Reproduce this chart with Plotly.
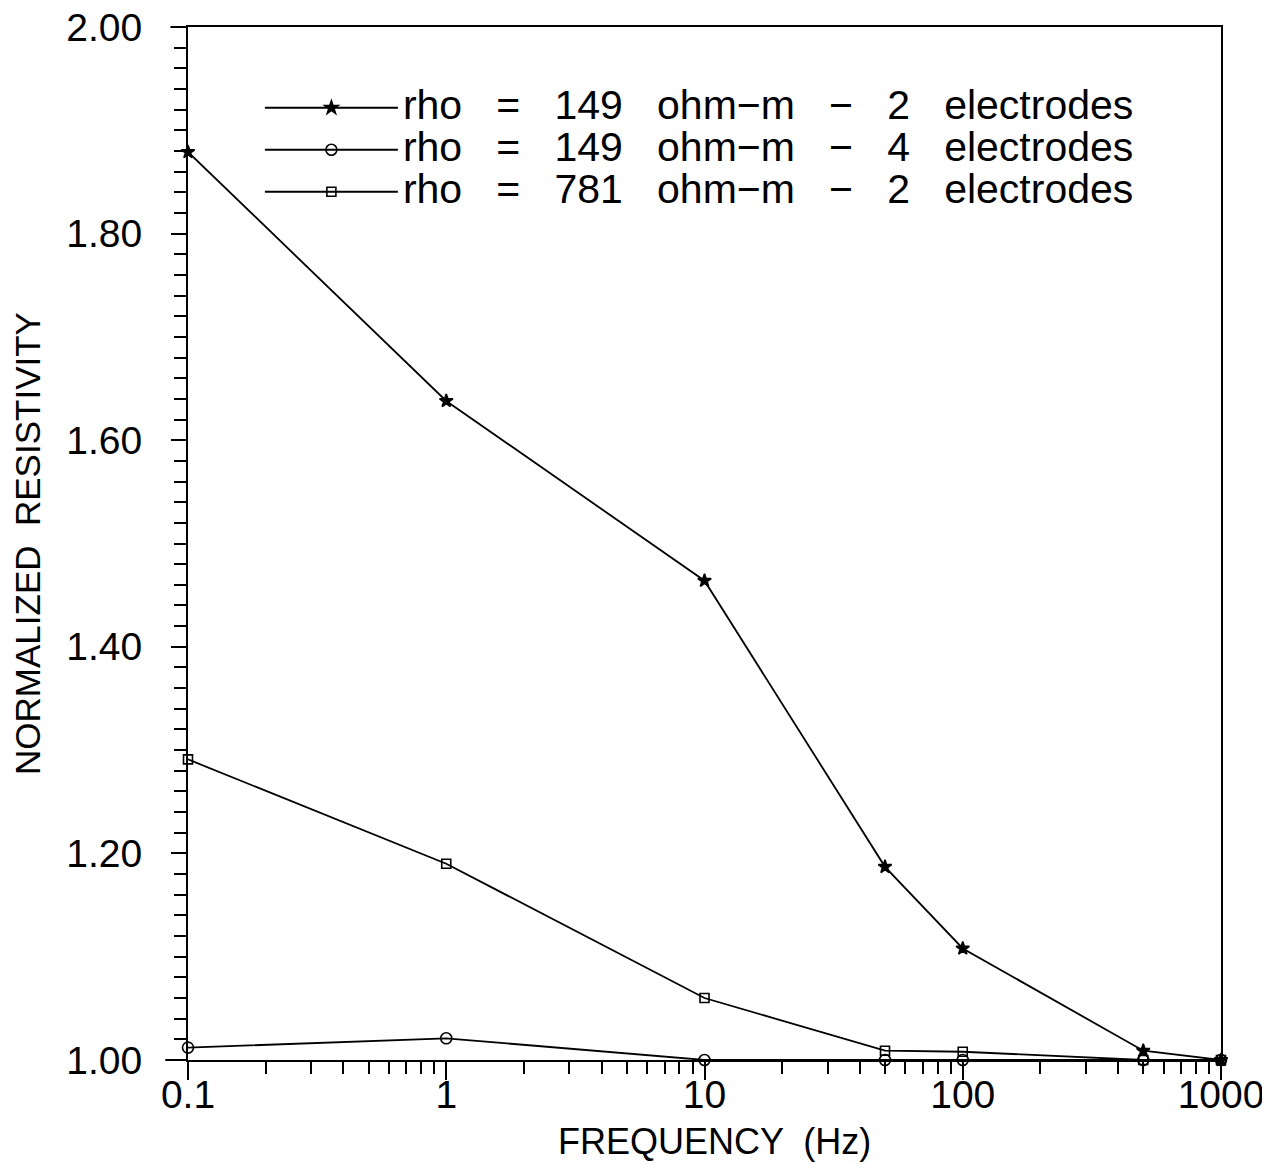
import plotly.graph_objects as go

freq = [0.1, 1, 10, 50, 100, 500, 1000]
rho149_2e = [1.879, 1.638, 1.464, 1.187, 1.108, 1.009, 1.000]
rho149_4e = [1.012, 1.021, 1.000, 1.000, 1.000, 1.000, 1.000]
rho781_2e = [1.291, 1.190, 1.060, 1.009, 1.008, 1.000, 1.000]

x_title = "FREQUENCY  (Hz)"
y_title = "NORMALIZED  RESISTIVITY"

NB = "\u00a0" * 3
names = [
    f"rho{NB}={NB}149{NB}ohm\u2212m{NB}\u2212{NB}2{NB}electrodes",
    f"rho{NB}={NB}149{NB}ohm\u2212m{NB}\u2212{NB}4{NB}electrodes",
    f"rho{NB}={NB}781{NB}ohm\u2212m{NB}\u2212{NB}2{NB}electrodes",
]
series = [rho149_2e, rho149_4e, rho781_2e]
symbols = ["star", "circle-open", "square-open"]
sizes = [10, 11, 9]

fig = go.Figure()
for name, ys, sym, sz in zip(names, series, symbols, sizes):
    fig.add_trace(go.Scatter(
        x=freq, y=ys, name=f'<span style="font-size:41px">{name}</span>',
        mode="lines+markers",
        line=dict(color="black", width=1.8),
        marker=dict(symbol=sym, size=sz, color="black", line=dict(color="black", width=1.6)),
        cliponaxis=False,
    ))

font = "Liberation Sans, Arial, sans-serif"
fig.update_layout(
    width=1270, height=1165,
    margin=dict(l=180, r=57, t=19, b=113),
    paper_bgcolor="white", plot_bgcolor="white",
    font=dict(family=font, color="black", size=36),
    showlegend=True,
    legend=dict(x=0.0696, y=0.947, xanchor="left", yanchor="top",
                bgcolor="rgba(0,0,0,0)", font=dict(size=30),
                tracegroupgap=0, itemwidth=133),
    shapes=[
        dict(type="line", xref="paper", yref="paper", x0=-0.022, x1=0, y0=0, y1=0,
             line=dict(color="black", width=2)),
        dict(type="line", xref="paper", yref="paper", x0=-0.017, x1=0, y0=1, y1=1,
             line=dict(color="black", width=2)),
    ],
    annotations=[
        dict(text=x_title, xref="paper", yref="paper", x=0.51, y=-0.079,
             xanchor="center", yanchor="middle", showarrow=False,
             font=dict(size=36, family=font, color="black")),
    ],
    xaxis=dict(
        type="log", range=[-1, 3], automargin=False,
        tickvals=[0.1, 1, 10, 100, 1000], ticktext=["0.1", "1", "10", "100", "1000"],
        ticks="outside", ticklen=18, tickwidth=2, tickcolor="black",
        showline=True, linecolor="black", linewidth=2, mirror=True,
        showgrid=False, zeroline=False,
        tickfont=dict(size=39), ticklabelstandoff=-19, ticklabeloverflow="allow",
        minor=dict(ticks="outside", ticklen=12, tickwidth=2, tickcolor="black", dtick="D1", showgrid=False),
    ),
    yaxis=dict(
        range=[1.0, 2.0], dtick=0.2, tick0=1.0, tickformat=".2f", automargin=False,
        ticks="outside", ticklen=15, tickwidth=2, tickcolor="black",
        showline=True, linecolor="black", linewidth=2, mirror=True,
        showgrid=False, zeroline=False,
        tickfont=dict(size=39), ticklabelstandoff=21, ticklabeloverflow="allow",
        minor=dict(ticks="outside", ticklen=12, tickwidth=2, tickcolor="black", dtick=0.02, showgrid=False),
        title=dict(text=y_title, font=dict(size=35), standoff=16),
    ),
)

fig.write_html("out.html")
